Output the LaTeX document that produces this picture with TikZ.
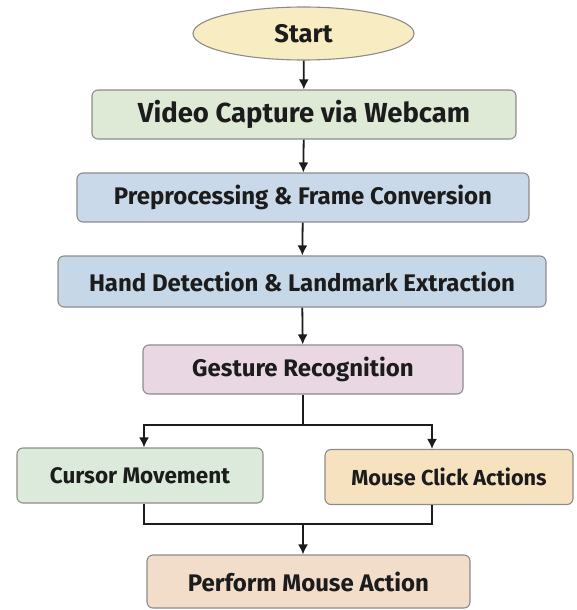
\documentclass[tikz,border=0pt]{standalone}
\usepackage{fontspec}
\setmainfont{Fira Sans}
\usetikzlibrary{arrows.meta,shapes.geometric,calc}

\definecolor{startfill}{HTML}{F8EDC2}
\definecolor{capfill}{HTML}{DEE9D6}
\definecolor{prepfill}{HTML}{C9D9E9}
\definecolor{handfill}{HTML}{C6D8E8}
\definecolor{gestfill}{HTML}{E9D8E4}
\definecolor{curfill}{HTML}{DCEADC}
\definecolor{clickfill}{HTML}{F6E2BF}
\definecolor{perffill}{HTML}{F2DDCB}
\definecolor{edge}{HTML}{8C8C8C}
\definecolor{ink}{HTML}{1C1C1C}

\tikzset{
  box/.style={draw=edge, line width=1.1pt, rounded corners=6pt,
    inner sep=0pt, align=center, text=ink, font=\bfseries},
  flow/.style={draw=ink, line width=1.8pt,
    -{Latex[length=10pt,width=10pt]}},
  wire/.style={draw=ink, line width=1.8pt},
}

\begin{document}
\begin{tikzpicture}[x=1pt,y=-1pt]
  \useasboundingbox[fill=white] (0,0) rectangle (576,610);

  % process steps
  \node[box, ellipse, fill=startfill, minimum width=221pt, minimum height=53pt,
        font=\bfseries\fontsize{25.5}{29}\selectfont] (start) at (303.5,33.5) {Start};
  \node[box, fill=capfill, minimum width=424pt, minimum height=49pt,
        font=\bfseries\fontsize{27.5}{31}\selectfont] (cap) at (304,114.5) {Video Capture via Webcam};
  \node[box, fill=prepfill, minimum width=452pt, minimum height=49pt,
        font=\bfseries\fontsize{24}{28}\selectfont] (prep) at (303,197.5) {Preprocessing \& Frame Conversion};
  \node[box, fill=handfill, minimum width=488pt, minimum height=51pt,
        font=\bfseries\fontsize{24}{28}\selectfont] (hand) at (302,281.5) {Hand Detection \& Landmark Extraction};
  \node[box, fill=gestfill, minimum width=320pt, minimum height=49pt,
        font=\bfseries\fontsize{24}{28}\selectfont] (gest) at (303,369.5) {Gesture Recognition};
  \node[box, fill=curfill, minimum width=246pt, minimum height=55pt,
        font=\bfseries\fontsize{22.5}{26}\selectfont] (cur) at (140,475.5) {Cursor Movement};
  \node[box, fill=clickfill, minimum width=248pt, minimum height=55pt,
        font=\bfseries\fontsize{21.7}{25}\selectfont] (click) at (449,477) {Mouse Click Actions};
  \node[box, fill=perffill, minimum width=323pt, minimum height=53pt,
        font=\bfseries\fontsize{24}{28}\selectfont] (perf) at (308.5,581.5) {Perform Mouse Action};

  % straight flow
  \draw[flow] (start) -- (cap);
  \draw[flow] (cap) -- (prep);
  \draw[flow] (prep) -- (hand);
  \draw[flow] (hand) -- (gest);

  % branch into the two actions
  \coordinate (split) at (303,425);
  \draw[wire] (gest.south) -- (split);
  \draw[flow] (split) -| ([xshift=4pt]cur.north);
  \draw[flow] (split) -| ([xshift=-17pt]click.north);

  % join back
  \coordinate (join) at (303,524);
  \draw[wire] ([xshift=4pt]cur.south) |- (join) -| ([xshift=-17pt]click.south);
  \draw[flow] (join) -- ([xshift=-5.5pt]perf.north);
\end{tikzpicture}
\end{document}
